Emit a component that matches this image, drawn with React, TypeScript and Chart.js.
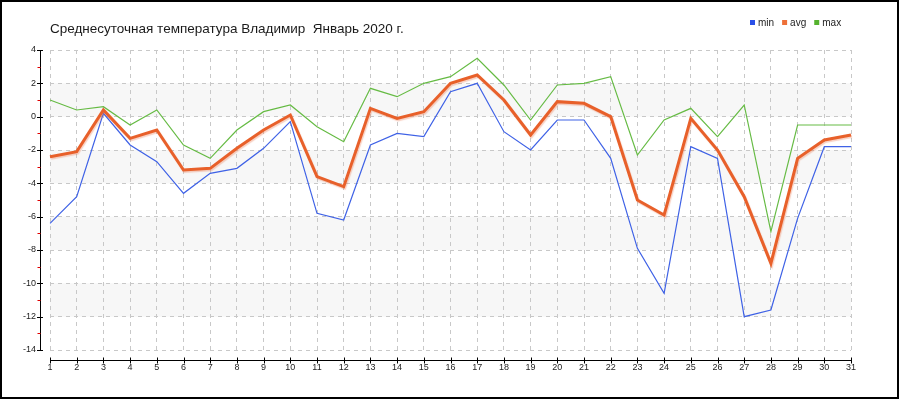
import React, { useEffect, useRef } from "react";
import { Chart, registerables } from "chart.js";

Chart.register(...registerables);

const TITLE = "Среднесуточная температура Владимир  Январь 2020 г.";
const days = Array.from({ length: 31 }, (_, i) => String(i + 1));
const minTemps = [-6.4, -4.8, 0.2, -1.7, -2.7, -4.6, -3.4, -3.1, -1.9, -0.3, -5.8, -6.2, -1.7, -1.0, -1.2, 1.5, 2.0, -0.9, -2.0, -0.2, -0.2, -2.5, -7.9, -10.6, -1.8, -2.5, -12.0, -11.6, -6.1, -1.8, -1.8];
const avgTemps = [-2.4, -2.1, 0.4, -1.3, -0.8, -3.2, -3.1, -1.9, -0.8, 0.1, -3.6, -4.2, 0.5, -0.1, 0.3, 2.0, 2.5, 1.0, -1.1, 0.9, 0.8, 0.0, -5.0, -5.9, -0.1, -2.0, -4.8, -8.8, -2.5, -1.4, -1.1];
const maxTemps = [1.0, 0.4, 0.6, -0.5, 0.4, -1.7, -2.5, -0.8, 0.3, 0.7, -0.6, -1.5, 1.7, 1.2, 2.0, 2.4, 3.5, 1.9, -0.2, 1.9, 2.0, 2.4, -2.3, -0.2, 0.5, -1.2, 0.7, -6.9, -0.5, -0.5, -0.5];
const seriesNames = ["min", "avg", "max"];
const seriesColors = ["#3f62e6", "#e8602a", "#66bb44"];
const legendColors = ["#2a50e8", "#ee7038", "#55b22e"];
const yMin = -14;
const yMax = 4;
const yStep = 2;

const decorPlugin = {
  id: "decor",
  beforeDraw(chart: any) {
    const { ctx, chartArea, scales } = chart;
    const y = scales.y;
    ctx.save();
    ctx.fillStyle = "#ffffff";
    ctx.fillRect(0, 0, chart.width, chart.height);
    ctx.fillStyle = "#f7f7f7";
    let idx = 0;
    for (let v = yMax; v > yMin; v -= yStep) {
      if (idx % 2 === 1) {
        const top = y.getPixelForValue(v);
        const bot = y.getPixelForValue(v - yStep);
        ctx.fillRect(chartArea.left, top, chartArea.right - chartArea.left, bot - top);
      }
      idx++;
    }
    ctx.restore();
  },
  beforeDatasetDraw(chart: any, args: any) {
    if (args.index === 1) {
      const ctx = chart.ctx;
      ctx.save();
      ctx.shadowColor = "rgba(235,120,80,0.35)";
      ctx.shadowOffsetX = 1;
      ctx.shadowOffsetY = 1.5;
      ctx.shadowBlur = 1;
    }
  },
  afterDatasetDraw(chart: any, args: any) {
    if (args.index === 1) {
      chart.ctx.restore();
    }
  },
  afterDraw(chart: any) {
    const { ctx, scales } = chart;
    const x = scales.x;
    const y = scales.y;
    ctx.save();
    const ax = 40.5;
    const yTop = y.getPixelForValue(yMax);
    const yBot = y.getPixelForValue(yMin);
    ctx.strokeStyle = "#000";
    ctx.lineWidth = 1;
    ctx.beginPath();
    ctx.moveTo(ax, yTop);
    ctx.lineTo(ax, yBot);
    ctx.stroke();
    for (let v = yMin; v <= yMax; v += 1) {
      const py = Math.round(y.getPixelForValue(v)) + 0.5;
      ctx.beginPath();
      if (v % 2 === 0) {
        ctx.strokeStyle = "#000";
        ctx.moveTo(ax - 3.5, py);
        ctx.lineTo(ax + 2.5, py);
      } else {
        ctx.strokeStyle = "#e00000";
        ctx.moveTo(ax - 3, py);
        ctx.lineTo(ax, py);
      }
      ctx.stroke();
    }
    const ay = 360.5;
    const xL = x.getPixelForValue(0);
    const xR = x.getPixelForValue(days.length - 1);
    ctx.strokeStyle = "#000";
    ctx.beginPath();
    ctx.moveTo(xL, ay);
    ctx.lineTo(xR + 1, ay);
    ctx.stroke();
    for (let i = 0; i < days.length; i++) {
      const px = Math.round(x.getPixelForValue(i)) + 0.5;
      ctx.beginPath();
      ctx.moveTo(px, ay - 3);
      ctx.lineTo(px, ay + 3);
      ctx.stroke();
    }
    ctx.fillStyle = "#1a1a1a";
    ctx.font = "13.5px 'Liberation Sans', Arial, sans-serif";
    ctx.textBaseline = "alphabetic";
    ctx.textAlign = "left";
    ctx.fillText(TITLE, 50, 33);
    ctx.font = "10px 'Liberation Sans', Arial, sans-serif";
    let lx = 750;
    for (let i = 0; i < seriesNames.length; i++) {
      ctx.fillStyle = legendColors[i];
      ctx.fillRect(lx, 20, 5, 5);
      ctx.fillStyle = "#222";
      ctx.fillText(seriesNames[i], lx + 8, 26);
      lx += 8 + ctx.measureText(seriesNames[i]).width + 8;
    }
    ctx.strokeStyle = "#000";
    ctx.lineWidth = 2;
    ctx.strokeRect(1, 1, 897, 397);
    ctx.restore();
  },
};

export default function App() {
  const ref = useRef<HTMLCanvasElement>(null);
  useEffect(() => {
    document.body.style.margin = "0";
    const canvas = ref.current!;
    const chart = new Chart(canvas, {
      type: "line",
      data: {
        labels: days,
        datasets: [
          { label: seriesNames[0], data: minTemps, borderColor: seriesColors[0], borderWidth: 1.2, pointRadius: 0, order: 1, tension: 0 },
          { label: seriesNames[1], data: avgTemps, borderColor: seriesColors[1], borderWidth: 3, pointRadius: 0, order: 0, tension: 0 },
          { label: seriesNames[2], data: maxTemps, borderColor: seriesColors[2], borderWidth: 1.2, pointRadius: 0, order: 2, tension: 0 },
        ],
      },
      options: {
        responsive: false,
        animation: false,
        layout: { padding: { top: 50, right: 49, left: 0, bottom: 0 } },
        plugins: {
          legend: { display: false },
          title: { display: false },
          tooltip: { enabled: false },
        },
        scales: {
          x: {
            type: "category",
            offset: false,
            grid: { color: "#c8c8c8", lineWidth: 1, drawTicks: false },
            border: { display: false, dash: [4, 4] },
            ticks: { color: "#222", font: { family: "'Liberation Sans', Arial, sans-serif", size: 9 }, padding: 12, maxRotation: 0, autoSkip: false },
            afterFit: (s: any) => { s.height = 50; },
          },
          y: {
            min: yMin,
            max: yMax,
            grid: { color: "#c8c8c8", lineWidth: 1, drawTicks: false },
            border: { display: false, dash: [4, 4] },
            ticks: { stepSize: yStep, color: "#222", font: { family: "'Liberation Sans', Arial, sans-serif", size: 9 }, padding: 14 },
            afterFit: (s: any) => { s.width = 50; },
          },
        },
      },
      plugins: [decorPlugin],
    } as any);
    return () => chart.destroy();
  }, []);
  return <canvas ref={ref} width={900} height={400} style={{ display: "block" }} />;
}
